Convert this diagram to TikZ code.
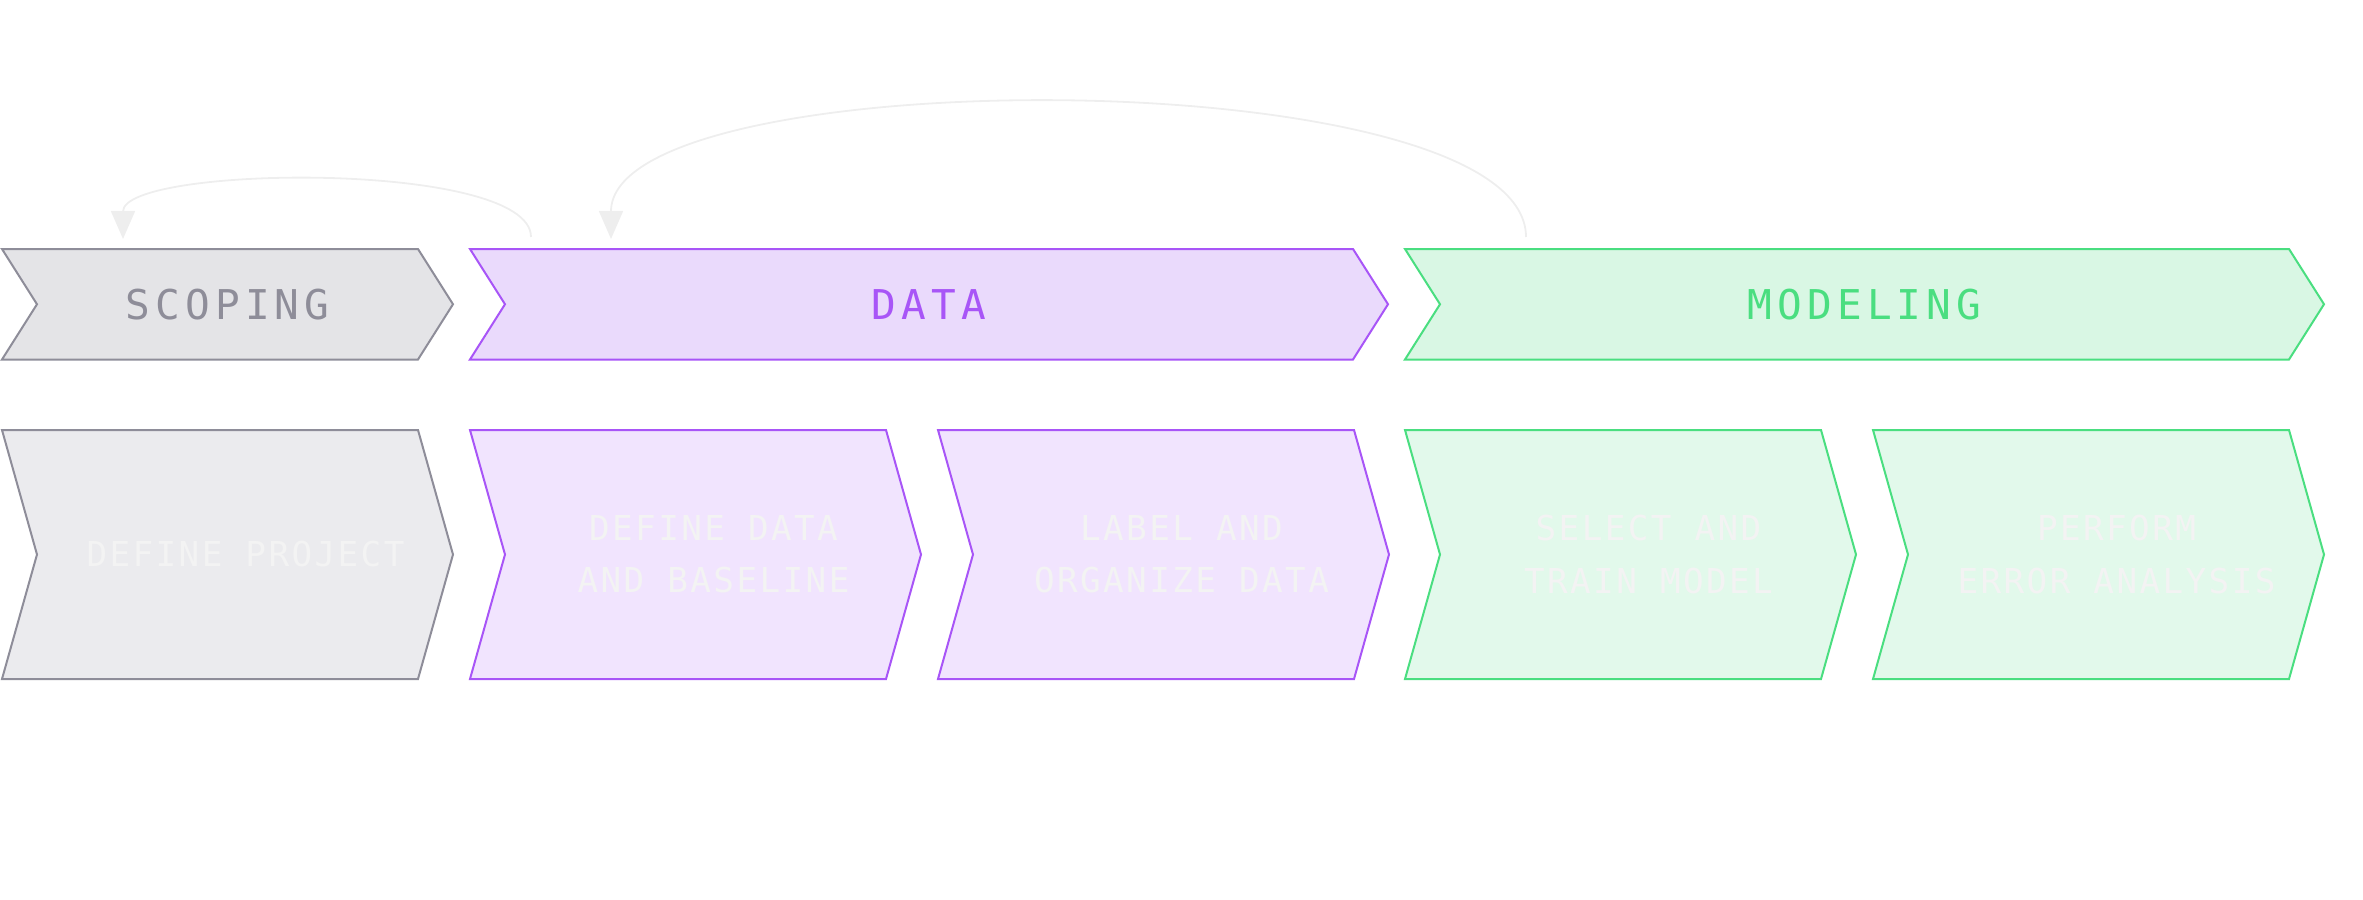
\documentclass[tikz,border=0pt]{standalone}
\usepackage{fontspec}
\usepackage{xcolor}
\usetikzlibrary{arrows.meta}
\newfontfamily\headfont[LetterSpace=12.6]{DejaVu Sans Mono}
\newfontfamily\stepfont[LetterSpace=7]{DejaVu Sans Mono}
\definecolor{scopegrey}{HTML}{8E8D99}
\definecolor{scopebg}{HTML}{E4E4E7}
\definecolor{scopelt}{HTML}{EBEBEE}
\definecolor{datapurple}{HTML}{A855F7}
\definecolor{databg}{HTML}{EADAFC}
\definecolor{datalt}{HTML}{F1E4FE}
\definecolor{modelgreen}{HTML}{4ADE80}
\definecolor{modelbg}{HTML}{D9F7E4}
\definecolor{modellt}{HTML}{E2F9EB}
\definecolor{faint}{HTML}{F3F3F3}
\definecolor{loopgrey}{HTML}{EEEEEE}
\tikzset{
  chev/.style     ={line width=0.5mm, line join=miter},
  scopehead/.style={chev, draw=scopegrey,  fill=scopebg},
  datahead/.style ={chev, draw=datapurple, fill=databg},
  modelhead/.style={chev, draw=modelgreen, fill=modelbg},
  scopestep/.style={chev, draw=scopegrey,  fill=scopelt},
  datastep/.style ={chev, draw=datapurple, fill=datalt},
  modelstep/.style={chev, draw=modelgreen, fill=modellt},
  headtxt/.style  ={font=\headfont\fontsize{29.2}{35}\selectfont, inner sep=0pt},
  steptxt/.style  ={font=\stepfont\fontsize{24.4}{37}\selectfont, text=faint,
                    align=center, inner sep=0pt},
  back/.style     ={-{Triangle[length=7mm, width=6mm]}, draw=loopgrey,
                    line width=0.45mm},
}

\begin{document}
\begin{tikzpicture}[x=0.25mm, y=-0.25mm]
\useasboundingbox (0,0) rectangle (2363,900);

% ------------------------------------------------------------- phases
\foreach \n/\xl/\xr/\sty/\col/\txt in {
    scoping/2/453/scopehead/scopegrey/SCOPING,
    data/470/1388/datahead/datapurple/DATA,
    modeling/1405/2324/modelhead/modelgreen/MODELING} {
  \draw[\sty] (\xl,249) -- (\xr-35,249) -- (\xr,304.25) -- (\xr-35,359.5)
    -- (\xl,359.5) -- (\xl+35,304.25) -- cycle;
  \node[headtxt, text=\col] (\n) at ({(\xl+\xr)/2},304.25) {\txt};
}

% ------------------------------------------------------------- steps
\foreach \n/\xl/\sty/\txt in {
    defproject/2/scopestep/{DEFINE PROJECT},
    defdata/470/datastep/{DEFINE DATA\\AND BASELINE},
    labeldata/938/datastep/{LABEL AND\\ORGANIZE DATA},
    trainmodel/1405/modelstep/{SELECT AND\\TRAIN MODEL},
    erroranalysis/1873/modelstep/{PERFORM\\ERROR ANALYSIS}} {
  \draw[\sty] (\xl,430) -- ++(416,0) -- ++(35,124.5) -- ++(-35,124.5)
    -- ++(-416,0) -- ++(35,-124.5) -- cycle;
  \node[steptxt] (\n) at (\xl+243.5,554.5) {\txt};
}

% ------------------------------------------------------------- loops back
\coordinate (fromdata)  at (531,237);
\coordinate (toscoping) at (123,239);
\coordinate (frommodel) at (1526,237);
\coordinate (todata)    at (611,239);
\draw[back] (fromdata) .. controls (531,160) and (123,165) .. (toscoping);
\draw[back] (frommodel) .. controls (1526,59) and (611,59) .. (todata);

\end{tikzpicture}
\end{document}
